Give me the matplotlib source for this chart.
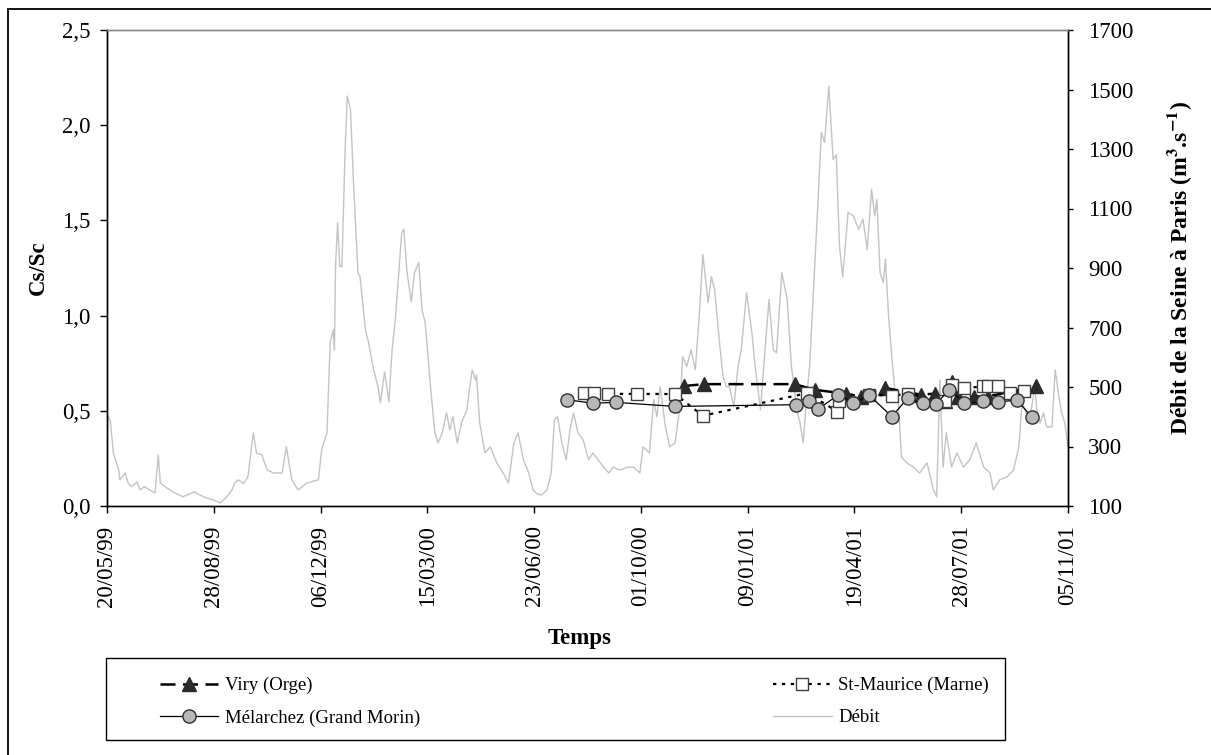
import numpy as np
import pandas as pd
import matplotlib
matplotlib.use("Agg")
import matplotlib.pyplot as plt

plt.rcParams["font.family"] = ["Liberation Serif", "DejaVu Serif"]
plt.rcParams["mathtext.fontset"] = "stix"

START = pd.Timestamp("1999-05-20")

# ── Débit de la Seine à Paris (m3/s), days since 20/05/99 ─────────────────────
debit_day = [
    0, 1, 3, 6, 11, 12, 17, 20, 23, 28, 31, 35, 40, 45, 48, 50, 56, 63, 71, 77,
    82, 88, 93, 100, 106, 112, 117, 120, 123, 128, 132, 137, 140, 145, 150, 156,
    164, 168, 173, 179, 187, 198, 201, 206, 209, 212, 213, 214, 216, 218, 220,
    223, 225, 228, 231, 235, 237, 242, 245, 249, 254, 256, 260, 264, 267, 270,
    273, 276, 278, 281, 285, 288, 292, 295, 298, 303, 307, 310, 314, 318, 321,
    324, 328, 332, 337, 342, 345, 346, 349, 354, 359, 365, 371, 376, 381, 385,
    390, 395, 399, 403, 407, 412, 416, 419, 422, 426, 430, 434, 437, 441, 446,
    451, 455, 460, 465, 470, 474, 480, 487, 493, 499, 502, 508, 512, 515, 518,
    523, 527, 532, 537, 539, 543, 547, 551, 555, 558, 563, 566, 569, 574, 577,
    580, 583, 587, 591, 594, 599, 604, 607, 612, 616, 620, 624, 627, 632, 637,
    641, 646, 649, 652, 655, 658, 662, 666, 669, 672, 676, 680, 683, 686, 689,
    694, 699, 704, 708, 712, 716, 719, 721, 724, 727, 729, 732, 735, 738, 741,
    744, 749, 755, 761, 768, 774, 777, 780, 783, 786, 791, 796, 802, 808, 814,
    821, 827, 830, 836, 843, 849, 854, 857, 860, 863, 866, 869, 871, 874, 877,
    880, 885, 888, 891, 894, 897, 900,
]
debit = [
    320, 400, 390, 278, 221, 188, 211, 175, 165, 181, 154, 165, 154, 144, 272, 177,
    161, 145, 131, 140, 148, 135, 127, 120, 110, 130, 154, 180, 188, 175, 198, 346,
    278, 272, 221, 211, 211, 299, 188, 154, 177, 188, 289, 346, 649, 693, 625, 905,
    1053, 905, 905, 1299, 1478, 1434, 1175, 885, 870, 693, 649, 569, 497, 447, 551,
    450, 625, 726, 871, 1019, 1030, 885, 787, 885, 918, 760, 716, 501, 346, 312,
    346, 413, 356, 400, 312, 380, 423, 558, 524, 540, 380, 278, 299, 245, 211, 177,
    312, 346, 255, 211, 154, 140, 137, 154, 211, 390, 400, 312, 255, 366, 413, 346,
    322, 255, 278, 255, 231, 211, 231, 221, 230, 231, 211, 299, 278, 457, 400, 501,
    366, 299, 312, 447, 602, 569, 625, 558, 760, 945, 784, 871, 828, 636, 534, 501,
    501, 433, 569, 625, 817, 682, 569, 423, 615, 794, 625, 615, 885, 794, 569, 423,
    380, 312, 457, 569, 851, 1131, 1356, 1322, 1511, 1265, 1280, 973, 871, 1087,
    1075, 1030, 1064, 962, 1164, 1075, 1131, 885, 851, 929, 737, 602, 480, 457, 265,
    245, 231, 211, 245, 154, 131, 524, 231, 346, 231, 278, 231, 255, 312, 231, 211,
    154, 188, 198, 221, 299, 447, 423, 390, 433, 501, 413, 380, 413, 366, 366, 558,
    480, 413, 380, 299,
]

# ── Cs/Sc ratios ──────────────────────────────────────────────────────────────
viry_day = [540, 559, 644, 663, 692, 706, 729, 762, 775, 785, 791, 797, 812, 825, 870]
viry = [0.63, 0.64, 0.64, 0.61, 0.59, 0.575, 0.62, 0.585, 0.59, 0.55, 0.65,
        0.575, 0.575, 0.575, 0.63]

stm_day = [447, 456, 469, 496, 532, 558, 656, 684, 686, 714, 735, 750, 785,
           791, 803, 820, 825, 834, 846, 859]
stmaurice = [0.593, 0.593, 0.589, 0.589, 0.588, 0.474, 0.593, 0.496, 0.554,
             0.584, 0.58, 0.588, 0.55, 0.637, 0.619, 0.628, 0.628, 0.632,
             0.593, 0.602]

mel_day = [431, 455, 477, 532, 645, 657, 666, 685, 699, 714, 735, 750, 764,
           776, 789, 803, 820, 834, 852, 866]
melarchez = [0.558, 0.54, 0.544, 0.523, 0.532, 0.549, 0.509, 0.584, 0.54,
             0.581, 0.47, 0.567, 0.54, 0.535, 0.611, 0.54, 0.549, 0.544,
             0.558, 0.467]

left_ticks = [0.0, 0.5, 1.0, 1.5, 2.0, 2.5]
left_labels = ["0,0", "0,5", "1,0", "1,5", "2,0", "2,5"]
right_ticks = [100, 300, 500, 700, 900, 1100, 1300, 1500, 1700]
date_ticks = ["20/05/99", "28/08/99", "06/12/99", "15/03/00", "23/06/00",
              "01/10/00", "09/01/01", "19/04/01", "28/07/01", "05/11/01"]


def to_dates(days):
    return START + pd.to_timedelta(np.asarray(days), unit="D")


W, H = 1211, 755
fig = plt.figure(figsize=(W / 100, H / 100), dpi=100)
ax = fig.add_axes([107 / W, 1 - 506 / H, 961 / W, 476 / H])
ax2 = ax.twinx()
ax.set_zorder(ax2.get_zorder() + 1)
ax.patch.set_visible(False)

# outer frame
fig.patches.append(plt.Rectangle((8 / W, -0.1), 1.2, 1.1 - 9 / H,
                                 transform=fig.transFigure, fill=False,
                                 edgecolor="black", linewidth=1.3))

l_deb, = ax2.plot(to_dates(debit_day), debit, color="#c4c4c4", lw=1.0)

l_viry, = ax.plot(to_dates(viry_day), viry, color="black", lw=1.8,
                  dashes=(6, 3), marker="^", markersize=9.5,
                  markerfacecolor="#2b2b2b", markeredgecolor="#2b2b2b")
l_stm, = ax.plot(to_dates(stm_day), stmaurice, color="black", lw=1.6,
                 linestyle=(0, (1.5, 2.5)), marker="s", markersize=8.5,
                 markerfacecolor="white", markeredgecolor="#404040",
                 markeredgewidth=1.0)
l_mel, = ax.plot(to_dates(mel_day), melarchez, color="black", lw=0.9,
                 marker="o", markersize=9.5, markerfacecolor="#b8b8b8",
                 markeredgecolor="#303030", markeredgewidth=1.0)

# axes
ax.set_ylim(0, 2.5)
ax.set_yticks(left_ticks)
ax.set_yticklabels(left_labels)
ax2.set_ylim(100, 1700)
ax2.set_yticks(right_ticks)

xt = pd.to_datetime(date_ticks, format="%d/%m/%y")
ax.set_xlim(xt[0], xt[-1])
ax.set_xticks(xt)
ax.set_xticklabels(date_ticks, rotation=90)

ax.tick_params(axis="y", direction="out", length=5, width=1, labelsize=16.5, pad=7)
ax.tick_params(axis="x", direction="out", length=5, width=1, labelsize=16.5, pad=9)
ax2.tick_params(axis="y", direction="out", length=3.5, width=1, labelsize=16.5, pad=11)
for a in (ax, ax2):
    for s in a.spines.values():
        s.set_linewidth(1)
    a.spines["top"].set_color("#888888")

ax.set_ylabel("Cs/Sc", fontsize=16.5, fontweight="bold")
ax.yaxis.set_label_coords(-0.061, 0.5)
ax2.set_ylabel(r"Débit de la Seine à Paris (m$^{\mathbf{3}}$.s$^{\mathbf{-1}}$)",
               fontsize=17, fontweight="bold", rotation=90)
ax2.yaxis.set_label_coords(1.101, 0.5)
ax.set_xlabel("Temps", fontsize=16.5, fontweight="bold")
ax.xaxis.set_label_coords(0.492, -0.256)

# legend box drawn separately, entries placed inside
fig.patches.append(plt.Rectangle((106 / W, 1 - 740 / H), 899 / W, 82 / H,
                                 transform=fig.transFigure, fill=False,
                                 edgecolor="black", linewidth=1.0))
fig.legend([l_viry, l_mel, l_stm, l_deb],
           ["Viry (Orge)", "Mélarchez (Grand Morin)",
            "St-Maurice (Marne)", "Débit"],
           ncol=2, loc="upper left", bbox_to_anchor=(160 / W, 1 - 677 / H),
           fontsize=13.5, frameon=False, handlelength=3.1, borderpad=0,
           labelspacing=0.8, columnspacing=18.85, handletextpad=0.35,
           borderaxespad=0)

fig.savefig("out.png", dpi=100, facecolor="white")
